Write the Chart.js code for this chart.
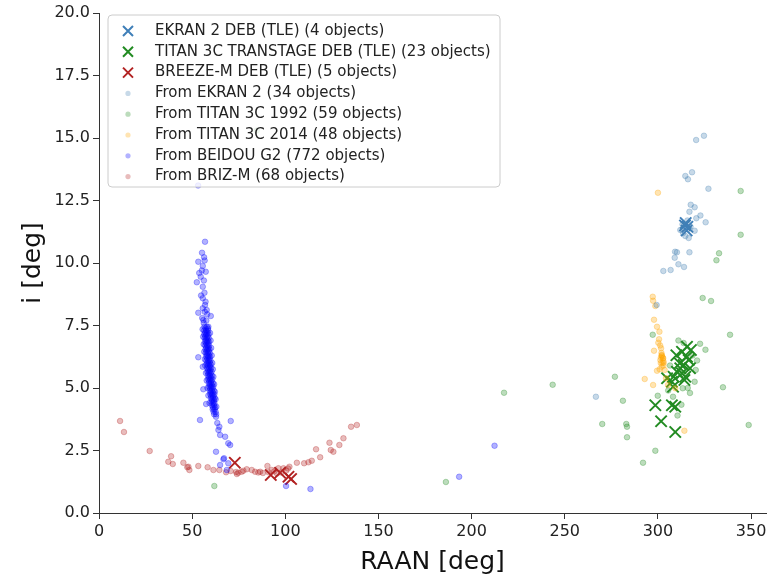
<!DOCTYPE html>
<html>
<head>
<meta charset="utf-8">
<script src="https://cdn.jsdelivr.net/npm/chart.js@4.4.0/dist/chart.umd.min.js"></script>
<style>
  html, body { margin: 0; padding: 0; background: #fff; }
</style>
</head>
<body>
<canvas id="orbitChart" width="767" height="581"></canvas>
<script>
// ---- data: [RAAN deg, inclination deg] ----

const ekranDeb = [[314.5,11.5],[315.4,11.3],[314.9,11.6],[315.8,11.45]];

const titanDeb = [
  [298.6,4.31],[307.5,4.31],[309.3,4.25],[301.7,3.67],[309.3,3.24],[309.9,6.31],
  [315.6,6.65],[317.7,6.52],[316.5,6.12],[313.8,5.92],[312.0,5.79],[310.2,5.65],
  [312.9,5.59],[314.7,5.45],[308.4,5.45],[304.9,5.39],[307.5,5.25],[314.2,5.32],
  [308.1,5.05],[315.6,6.25],[311.7,5.99],[317.2,5.79],[312.9,6.45]
];

const breezeDeb = [[72.9,2.01],[92.2,1.52],[97.2,1.61],[101.7,1.45],[103.1,1.36]];

const fromEkran = [
  [320.5,14.92],[324.7,15.09],[314.7,13.48],[318.3,13.63],[316.1,13.35],[327.1,12.97],
  [317.6,12.33],[319.7,12.23],[316.9,12.05],[322.8,11.9],[320.6,11.79],[325.6,11.63],
  [319.7,11.29],[314.7,11.08],[312.0,11.32],[313.5,11.2],[316.5,11.0],[309.2,10.45],
  [310.2,10.43],[316.9,10.43],[309.0,10.21],[311.0,9.95],[314.0,9.84],[302.9,9.68],
  [306.8,9.72],[299.3,8.32],[266.7,4.65],[315.8,11.7],[313.2,11.55],[317.5,11.45]
];

const fromTitan1992 = [
  [344.4,12.88],[344.4,11.13],[332.8,10.39],[331.4,10.11],[324.0,8.6],[328.5,8.48],
  [338.7,7.13],[297.2,7.13],[322.6,6.77],[325.5,6.53],[320.3,5.72],[319.7,5.25],
  [334.9,5.03],[276.9,5.45],[243.5,5.13],[281.2,4.49],[299.9,4.69],[308.1,4.65],
  [313.3,4.99],[312.6,4.33],[270.1,3.56],[283.0,3.56],[283.4,3.45],[283.4,3.03],
  [298.6,2.49],[292.0,2.01],[348.7,3.52],[217.4,4.81],[186.2,1.24],[61.9,1.08],
  [84.7,15.3],[318.5,6.3],[316.0,5.0],[311.0,6.9],[305.5,4.9],[310.5,3.9],
  [321.0,6.1],[306.5,5.9],[313.8,6.8],[317.2,4.8]
];

const fromTitan2014 = [
  [300.0,12.81],[297.2,8.65],[297.4,8.49],[298.6,8.28],[297.9,7.73],[299.5,7.45],
  [300.8,7.25],[300.2,6.81],[301.7,6.59],[297.9,6.49],[302.1,6.32],[302.7,6.19],
  [301.3,6.12],[303.1,6.01],[302.0,5.85],[300.9,5.75],[299.5,5.69],[303.6,5.72],
  [292.9,5.36],[297.4,5.12],[304.3,5.39],[305.4,5.12],[309.3,4.99],[314.2,3.29],
  [302.0,6.3],[302.4,6.0],[301.9,6.4],[302.8,6.2],[301.5,6.0],[303.0,5.9],
  [302.3,6.25],[301.6,6.22],[302.9,6.08],[300.6,6.95],[301.2,6.7]
];

const fromBeidou = [
  // sparse top of the column
  [56.9,10.85],[55.3,10.41],[56.4,10.23],[53.3,10.05],[55.7,9.88],[57.3,9.65],[54.6,9.45],
  [52.5,9.23],[55.7,9.05],[56.6,8.81],[55.7,8.59],[56.9,8.32],[53.3,8.01],[55.7,8.19],
  [57.8,8.12],[60.0,7.88],[56.0,7.72],[58.7,7.45],[56.2,7.6],[57.6,7.7],[55.4,7.8],
  [58.1,7.95],[56.8,8.05],[57.2,8.45],[54.8,8.7],[56.3,9.3],[55.2,9.7],[56.7,10.1],[53.8,9.6],
  // dense stripe
  [56.6,7.45],[57.9,7.45],[57.2,7.38],[58.5,7.38],[56.4,7.3],[57.5,7.3],[58.6,7.3],
  [57.0,7.22],[58.1,7.22],[56.5,7.15],[57.6,7.15],[58.8,7.15],[57.1,7.08],[58.3,7.08],
  [56.7,7.0],[57.8,7.0],[58.9,7.0],[57.3,6.92],[58.4,6.92],[56.9,6.85],[58.0,6.85],[59.0,6.85],
  [57.5,6.78],[58.6,6.78],[57.0,6.7],[58.1,6.7],[59.1,6.7],[57.6,6.62],[58.7,6.62],
  [57.2,6.55],[58.3,6.55],[59.3,6.55],[57.8,6.48],[58.9,6.48],[57.3,6.4],[58.4,6.4],[59.5,6.4],
  [57.9,6.32],[59.0,6.32],[57.5,6.25],[58.6,6.25],[59.6,6.25],[58.1,6.18],[59.2,6.18],
  [57.6,6.1],[58.8,6.1],[59.8,6.1],[58.3,6.02],[59.4,6.02],[57.8,5.95],[58.9,5.95],[60.0,5.95],
  [58.4,5.88],[59.6,5.88],[58.0,5.8],[59.1,5.8],[60.2,5.8],[58.6,5.72],[59.7,5.72],
  [58.2,5.65],[59.3,5.65],[60.4,5.65],[58.8,5.58],[59.9,5.58],[58.4,5.5],[59.5,5.5],[60.6,5.5],
  [59.0,5.42],[60.1,5.42],[58.6,5.35],[59.7,5.35],[60.8,5.35],[59.2,5.28],[60.3,5.28],
  [58.9,5.2],[60.0,5.2],[61.1,5.2],[59.5,5.12],[60.6,5.12],[59.1,5.05],[60.2,5.05],[61.3,5.05],
  [59.7,4.98],[60.8,4.98],[59.4,4.9],[60.5,4.9],[61.6,4.9],[60.0,4.82],[61.1,4.82],
  [59.7,4.75],[60.8,4.75],[61.9,4.75],[60.3,4.68],[61.4,4.68],[60.0,4.6],[61.1,4.6],[62.1,4.6],
  [60.6,4.52],[61.7,4.52],[60.4,4.45],[61.5,4.45],[60.9,4.38],[62.0,4.38],[60.7,4.3],[61.8,4.3],
  [61.2,4.22],[62.3,4.22],[61.0,4.15],[62.0,4.15],[61.5,4.05],[62.6,4.05],[61.8,3.95],[62.9,3.95],
  // stripe edges
  [55.6,7.35],[59.6,7.2],[55.9,7.05],[59.9,6.9],[56.2,6.75],[60.2,6.6],[56.5,6.45],[60.5,6.3],
  [56.8,6.15],[60.8,6.0],[57.0,5.9],[61.1,5.75],[57.4,5.6],[61.4,5.45],[57.8,5.3],[61.8,5.15],
  [58.2,5.0],[62.2,4.85],[58.7,4.7],[62.6,4.55],[59.3,4.4],[63.0,4.25],
  // tail and outliers
  [53.3,6.23],[55.7,5.85],[56.0,4.95],[57.5,4.36],[54.2,3.72],[70.7,3.68],[62.8,3.85],
  [64.1,3.32],[65.0,3.12],[67.7,3.05],[69.4,2.79],[70.4,2.72],[62.8,2.45],[67.1,2.19],
  [69.4,1.99],[68.6,1.72],[65.0,1.92],[66.8,2.15],[63.5,3.6],[64.6,3.45],
  [100.4,1.08],[113.5,0.96],[212.3,2.69],[193.3,1.45],[53.2,13.1]
];

const fromBrizM = [
  [11.3,3.68],[13.4,3.24],[27.2,2.48],[38.7,2.27],[37.2,2.05],[39.6,1.96],[45.3,2.01],
  [47.4,1.83],[48.5,1.72],[53.3,1.88],[58.3,1.83],[61.4,1.72],[64.6,1.72],[68.2,1.63],
  [70.7,1.68],[73.6,1.64],[76.6,1.65],[82.0,1.72],[83.8,1.65],[86.5,1.65],[90.4,1.88],
  [92.7,1.72],[96.3,1.79],[99.0,1.79],[102.2,1.85],[106.2,2.01],[110.1,1.99],[112.4,2.03],
  [114.2,2.09],[118.7,2.23],[116.5,2.55],[124.4,2.52],[125.8,2.45],[123.7,2.81],[129.0,2.72],
  [131.2,2.99],[135.3,3.45],[138.4,3.52],[48.0,1.85],[74.8,1.61],[77.5,1.69],[79.3,1.75],
  [74.0,1.56],[85.5,1.62],[88.0,1.6],[91.0,1.63],[94.0,1.66],[95.5,1.58],[97.8,1.62],
  [100.5,1.7],[101.5,1.78]
];

const xTicks = [0, 50, 100, 150, 200, 250, 300, 350];
const yTicks = [0, 2.5, 5, 7.5, 10, 12.5, 15, 17.5, 20];

const FONT = "'DejaVu Sans', sans-serif";

function toPoints(arr) {
  return arr.map(p => ({ x: p[0], y: p[1] }));
}

// X markers (TLE debris)
function crossSet(label, pts, color) {
  return {
    label: label, data: toPoints(pts), order: 1, kind: 'cross',
    pointStyle: 'crossRot', pointRadius: 8, borderWidth: 2,
    borderColor: color, backgroundColor: color
  };
}

// faint round fragments
function dotSet(label, pts, rgb) {
  const c = 'rgba(' + rgb + ',0.3)';
  return {
    label: label, data: toPoints(pts), order: 0, kind: 'dot',
    pointStyle: 'circle', pointRadius: 2.8, borderWidth: 1,
    borderColor: c, backgroundColor: c
  };
}

// legend drawn inside the plot like matplotlib's
const boxLegend = {
  id: 'boxLegend',
  afterDraw(chart) {
    const ctx = chart.ctx;
    const x0 = 108, y0 = 15, w = 392, h = 172, r = 4;
    ctx.save();
    ctx.beginPath();
    ctx.moveTo(x0 + r, y0);
    ctx.arcTo(x0 + w, y0, x0 + w, y0 + h, r);
    ctx.arcTo(x0 + w, y0 + h, x0, y0 + h, r);
    ctx.arcTo(x0, y0 + h, x0, y0, r);
    ctx.arcTo(x0, y0, x0 + w, y0, r);
    ctx.closePath();
    ctx.fillStyle = 'rgba(255,255,255,0.8)';
    ctx.fill();
    ctx.strokeStyle = '#cccccc';
    ctx.lineWidth = 1;
    ctx.stroke();

    ctx.font = '15px ' + FONT;
    ctx.textBaseline = 'middle';
    ctx.textAlign = 'left';
    chart.data.datasets.forEach((ds, i) => {
      const cy = 31 + i * 20.8;
      const mx = 128;
      if (ds.kind === 'cross') {
        ctx.strokeStyle = ds.borderColor;
        ctx.lineWidth = 2;
        ctx.beginPath();
        ctx.moveTo(mx - 5, cy - 5); ctx.lineTo(mx + 5, cy + 5);
        ctx.moveTo(mx + 5, cy - 5); ctx.lineTo(mx - 5, cy + 5);
        ctx.stroke();
      } else {
        ctx.fillStyle = ds.backgroundColor;
        ctx.beginPath();
        ctx.arc(mx, cy, 2.6, 0, Math.PI * 2);
        ctx.fill();
      }
      ctx.fillStyle = '#222';
      ctx.fillText(ds.label, 155, cy);
    });
    ctx.restore();
  }
};

const ctx = document.getElementById('orbitChart').getContext('2d');

const orbitChart = new Chart(ctx, {
  type: 'scatter',
  data: {
    datasets: [
      crossSet('EKRAN 2 DEB (TLE) (4 objects)', ekranDeb, '#3f7fb8'),
      crossSet('TITAN 3C TRANSTAGE DEB (TLE) (23 objects)', titanDeb, '#228b22'),
      crossSet('BREEZE-M DEB (TLE) (5 objects)', breezeDeb, '#b22222'),
      dotSet('From EKRAN 2 (34 objects)', fromEkran, '70,130,180'),
      dotSet('From TITAN 3C 1992 (59 objects)', fromTitan1992, '34,139,34'),
      dotSet('From TITAN 3C 2014 (48 objects)', fromTitan2014, '255,165,0'),
      dotSet('From BEIDOU G2 (772 objects)', fromBeidou, '0,0,255'),
      dotSet('From BRIZ-M (68 objects)', fromBrizM, '178,34,34')
    ]
  },
  options: {
    responsive: false,
    animation: false,
    layout: { autoPadding: false, padding: { top: 13, right: 1, left: 0, bottom: 0 } },
    plugins: {
      legend: { display: false },
      tooltip: { enabled: false }
    },
    scales: {
      x: {
        type: 'linear',
        min: 0, max: 358,
        afterFit: s => { s.height = 68; s.paddingLeft = 0; s.paddingRight = 0; },
        afterBuildTicks: s => { s.ticks = xTicks.map(v => ({ value: v })); },
        grid: { drawOnChartArea: false, drawTicks: true, tickLength: 6, color: '#333' },
        border: { color: '#333', width: 1 },
        ticks: { color: '#222', padding: 3, font: { family: FONT, size: 16 } },
        title: {
          display: true, text: 'RAAN [deg]', color: '#111',
          font: { family: FONT, size: 25 }, padding: { top: 0, bottom: 4 }
        }
      },
      y: {
        type: 'linear',
        min: 0, max: 20,
        afterFit: s => { s.width = 99; s.paddingTop = 0; s.paddingBottom = 0; },
        afterBuildTicks: s => { s.ticks = yTicks.map(v => ({ value: v })); },
        grid: { drawOnChartArea: false, drawTicks: true, tickLength: 6, color: '#333' },
        border: { color: '#333', width: 1 },
        ticks: {
          color: '#222', padding: 3, font: { family: FONT, size: 16 },
          callback: v => v.toFixed(1)
        },
        title: {
          display: true, text: 'i [deg]', color: '#111',
          font: { family: FONT, size: 25 }, padding: { top: 18, bottom: 0 }
        }
      }
    }
  },
  plugins: [boxLegend]
});
</script>
</body>
</html>
